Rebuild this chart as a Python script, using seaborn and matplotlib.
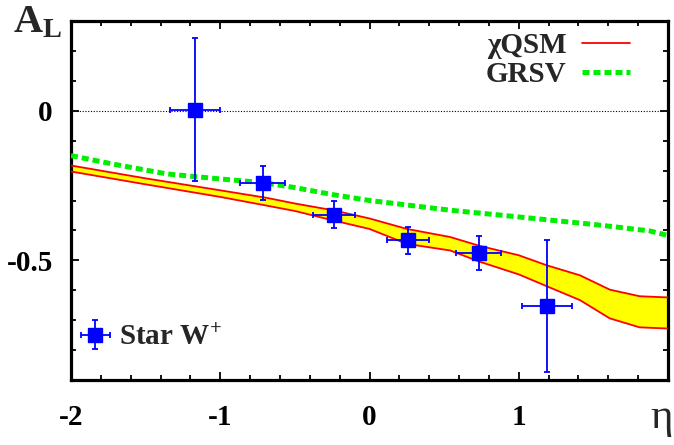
import numpy as np
import pandas as pd
import matplotlib
matplotlib.use("Agg")
import matplotlib.pyplot as plt
import seaborn as sns
from matplotlib.ticker import MultipleLocator, FixedLocator

# ---- data ----
band_eta = [-2.0, -1.5, -1.0, -0.69, -0.5, -0.24, 0.0, 0.25, 0.54, 0.74, 1.0, 1.19, 1.41, 1.61, 1.81, 2.0]
band_upper = [-0.183, -0.226, -0.266, -0.291, -0.31, -0.333, -0.36, -0.395, -0.422, -0.452, -0.483, -0.517, -0.55, -0.598, -0.62, -0.624]
band_lower = [-0.203, -0.246, -0.288, -0.317, -0.335, -0.367, -0.395, -0.445, -0.467, -0.505, -0.547, -0.587, -0.633, -0.694, -0.724, -0.728]

grsv_eta = [-2.0, -1.7, -1.36, -1.0, -0.72, -0.51, -0.25, 0.0, 0.25, 0.55, 0.9, 1.2, 1.5, 1.66, 1.88, 2.0]
grsv_al = [-0.15, -0.18, -0.211, -0.228, -0.24, -0.256, -0.28, -0.30, -0.315, -0.333, -0.35, -0.365, -0.38, -0.389, -0.402, -0.417]

star_eta = [-1.17, -0.716, -0.238, 0.256, 0.732, 1.189]
star_al = [0.004, -0.242, -0.347, -0.433, -0.476, -0.653]
star_xerr = [0.17, 0.15, 0.14, 0.14, 0.15, 0.17]
star_yerr = [0.24, 0.057, 0.045, 0.045, 0.056, 0.22]

x_ticks = [-2, -1, 0, 1, 2]
x_ticklabels = ["-2", "-1", "0", "1", ""]
y_ticks = [0.0, -0.5]
y_ticklabels = ["0", "-0.5"]

sns.set_theme(style="ticks")
plt.rcParams["font.family"] = ["Liberation Serif", "DejaVu Serif"]
plt.rcParams["mathtext.fontset"] = "custom"
plt.rcParams["mathtext.rm"] = "Liberation Serif:bold"
plt.rcParams["mathtext.bf"] = "Liberation Serif:bold"
plt.rcParams["mathtext.it"] = "Liberation Serif:bold:italic"

fig = plt.figure(figsize=(6.74, 4.45), dpi=100)
ax = fig.add_axes([71/674, 1-380/445, (668-71)/674, (380-21)/445])

band = pd.DataFrame({"eta": band_eta, "upper": band_upper, "lower": band_lower})
grsv = pd.DataFrame({"eta": grsv_eta, "al": grsv_al})

ax.axhline(0, color="black", lw=0.8, linestyle=(0, (1, 1.5)), zorder=1)

ax.fill_between(band["eta"], band["lower"], band["upper"], color="#ffff00", lw=0, zorder=2)
sns.lineplot(data=band, x="eta", y="upper", ax=ax, color="red", lw=1.3, sort=False,
             estimator=None, zorder=3, label="χQSM")
sns.lineplot(data=band, x="eta", y="lower", ax=ax, color="red", lw=1.3, sort=False,
             estimator=None, zorder=3)
sns.lineplot(data=grsv, x="eta", y="al", ax=ax, color="#00ee00", lw=3.6, sort=False,
             estimator=None, zorder=4, label="GRSV", linestyle=(0, (1.4, 0.8)))

eb = ax.errorbar(star_eta, star_al, xerr=star_xerr, yerr=star_yerr, fmt="s", color="#0000ff",
                 ms=10, elinewidth=1.3, capsize=2.3, capthick=1.3, zorder=6, label="Star W$^{+}$")

ax.set_xlim(-2, 2)
ax.set_ylim(-0.9, 0.3)
ax.set_xlabel("")
ax.set_ylabel("")

ax.xaxis.set_major_locator(FixedLocator(x_ticks))
ax.set_xticklabels(x_ticklabels)
ax.xaxis.set_minor_locator(MultipleLocator(0.2))
ax.yaxis.set_major_locator(FixedLocator(y_ticks))
ax.set_yticklabels(y_ticklabels)
ax.yaxis.set_minor_locator(MultipleLocator(0.1))

ax.tick_params(which="both", direction="in", top=True, right=True, width=1.3, color="black")
ax.tick_params(which="major", length=6)
ax.tick_params(which="minor", length=3.5)
ax.tick_params(axis="x", which="major", pad=17, labelsize=21)
ax.tick_params(axis="y", which="major", pad=13, labelsize=21)
for lab in ax.get_xticklabels() + ax.get_yticklabels():
    lab.set_fontweight("bold")
    lab.set_color("black")
for sp in ax.spines.values():
    sp.set_linewidth(2.3)
    sp.set_color("black")
    sp.set_visible(True)

handles, labels = ax.get_legend_handles_labels()
hmap = dict(zip(labels, handles))
leg1 = ax.legend([hmap["χQSM"], hmap["GRSV"]], ["χQSM", "GRSV"], loc="upper right",
                 bbox_to_anchor=(0.97, 1.025), frameon=False, markerfirst=False,
                 prop={"family": "Liberation Serif", "weight": "bold", "size": 21},
                 handlelength=1.65, handletextpad=0.52, labelspacing=0.05, borderpad=0.2)
for t in leg1.get_texts():
    t.set_ha("right")
ax.add_artist(leg1)
ax.legend([eb], ["Star W$^{+}$"], loc="lower left", bbox_to_anchor=(-0.023, 0.024),
          frameon=False, prop={"family": "Liberation Serif", "weight": "bold", "size": 21},
          handlelength=1.2, handletextpad=0.22, borderpad=0.2)

fig.text(13/674, 1-32/445, r"A$_{\mathrm{L}}$", fontsize=29, fontweight="bold",
         ha="left", va="baseline", family="Liberation Serif")
fig.text(662/674, 1-428/445, "η", fontsize=31, ha="center", va="baseline",
         family="Liberation Serif")

fig.savefig("out.png", dpi=100)
